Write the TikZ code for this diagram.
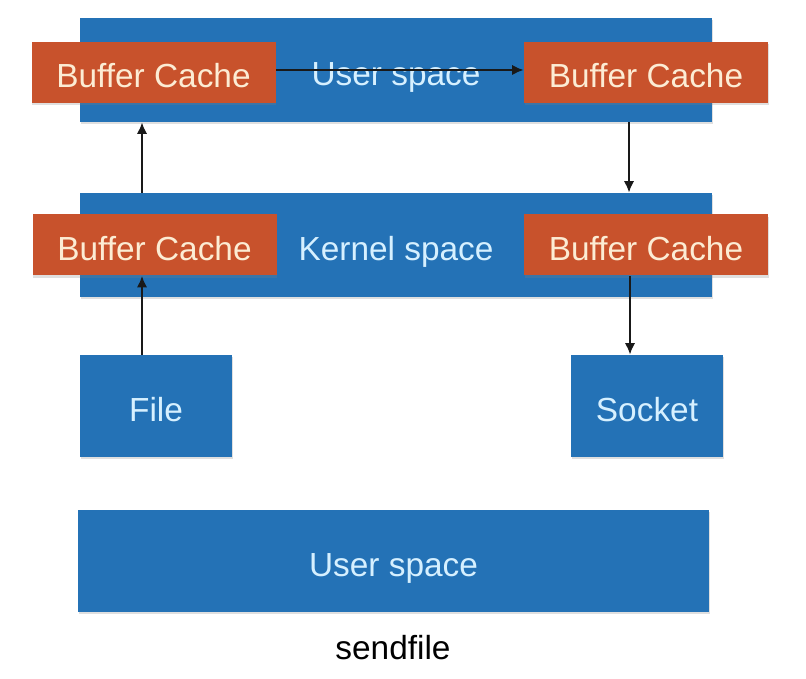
\documentclass[tikz,border=0pt]{standalone}
\usepackage{fontspec}
\setmainfont{Liberation Sans}
\usetikzlibrary{arrows.meta, positioning, calc, shadows}
\definecolor{azul}{RGB}{36,114,182}
\definecolor{naranja}{RGB}{200,82,44}
\definecolor{txtazul}{RGB}{214,240,255}
\definecolor{txtnaranja}{RGB}{252,236,212}

\begin{document}
\begin{tikzpicture}[
  zona/.style={rectangle, fill=azul, minimum width=12.64cm, minimum height=2.08cm,
    text=txtazul, font=\fontsize{19}{21}\selectfont, text height=0.62cm, text depth=0cm,
    drop shadow={opacity=0.25, shadow xshift=0.4pt, shadow yshift=-1.2pt}},
  cache/.style={rectangle, fill=naranja, minimum width=4.88cm, minimum height=1.22cm,
    text=txtnaranja, font=\fontsize{19}{21}\selectfont, text height=0.62cm, text depth=0cm,
    drop shadow={opacity=0.25, shadow xshift=0.4pt, shadow yshift=-1.2pt}},
  disp/.style={zona, minimum width=3.04cm, minimum height=2.04cm},
  flecha/.style={-{Latex[length=2.3mm, width=2.1mm]}, line width=1.3pt, black!90}
]
  \useasboundingbox (0,0) rectangle (16.12,-13.58);

  \node[zona] (usuario) at (7.92,-1.40) {User space};
  \node[cache] (bufUI) at (3.07,-1.45) {Buffer Cache};
  \node[cache] (bufUD) at (12.92,-1.45) {Buffer Cache};

  \node[zona] (kernel) at (7.92,-4.90) {Kernel space};
  \node[cache] (bufKI) at (3.09,-4.90) {Buffer Cache};
  \node[cache] (bufKD) at (12.92,-4.90) {Buffer Cache};

  \node[disp] (archivo) at (3.12,-8.12) {File};
  \node[disp] (socket) at (12.94,-8.12) {Socket};

  \node[zona, minimum width=12.62cm, minimum height=2.04cm] (usuario2) at (7.87,-11.22) {User space};
  \node[font=\fontsize{19}{21}\selectfont] (titulo) at (7.86,-12.96) {sendfile};

  \draw[flecha] ([yshift=0.05cm]bufUI.east) -- ([yshift=0.05cm]bufUD.west);
  \draw[flecha] ([xshift=-0.28cm]archivo.north) -- ([xshift=-0.28cm]archivo.north |- bufKI.south);
  \draw[flecha] ([xshift=-0.28cm]archivo.north |- kernel.north) -- ([xshift=-0.28cm]archivo.north |- usuario.south);
  \draw[flecha] ([xshift=-0.34cm]bufUD.south |- usuario.south) -- ([xshift=-0.34cm]bufUD.south |- kernel.north);
  \draw[flecha] ([xshift=-0.32cm]bufKD.south) -- ([xshift=-0.32cm]bufKD.south |- socket.north);
\end{tikzpicture}
\end{document}
